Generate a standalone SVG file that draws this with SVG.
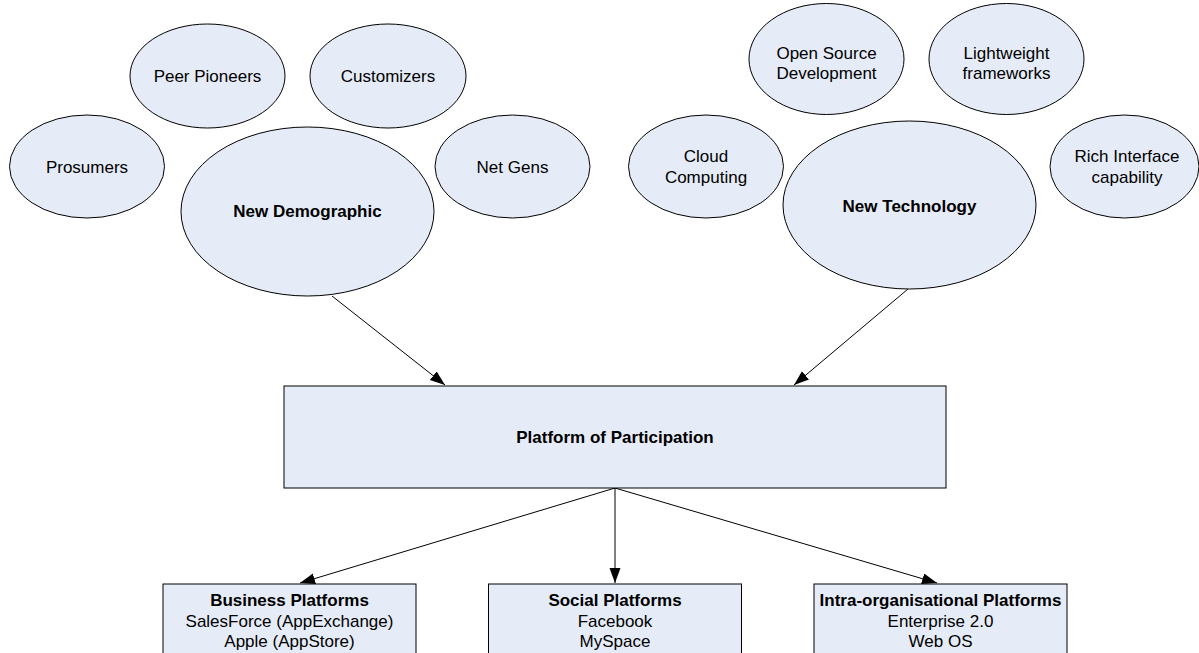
<svg xmlns="http://www.w3.org/2000/svg" width="1199" height="653" viewBox="0 0 1199 653">
<style>
.n{fill:#E6ECF7;stroke:#000;stroke-width:1}
.t{font-family:"Liberation Sans",Arial,sans-serif;font-size:17px;fill:#000;text-anchor:middle}
.b{font-weight:bold}
.c{stroke:#000;stroke-width:1;fill:none;marker-end:url(#ah)}
</style>
<defs>
<marker id="ah" markerUnits="userSpaceOnUse" markerWidth="16" markerHeight="12" refX="15" refY="5.5" orient="auto">
<path d="M0,0 L15,5.5 L0,11 Z" fill="#000"/>
</marker>
</defs>
<rect width="1199" height="653" fill="#fff"/>
<g id="connectors">
<line class="c" x1="332" y1="296" x2="445" y2="385"/>
<line class="c" x1="908" y1="289" x2="794" y2="385"/>
<line class="c" x1="615" y1="488" x2="300" y2="583"/>
<line class="c" x1="615" y1="488" x2="615" y2="583"/>
<line class="c" x1="615" y1="488" x2="937" y2="583"/>
</g>
<g id="prosumers"><ellipse class="n" cx="87" cy="166.5" rx="77.5" ry="51.5"/><text class="t" x="87" y="172.5">Prosumers</text></g>
<g id="peer-pioneers"><ellipse class="n" cx="207.5" cy="76" rx="77.5" ry="52"/><text class="t" x="207.5" y="82">Peer Pioneers</text></g>
<g id="customizers"><ellipse class="n" cx="388" cy="76" rx="78" ry="52"/><text class="t" x="388" y="82">Customizers</text></g>
<g id="net-gens"><ellipse class="n" cx="512.5" cy="166.5" rx="77.5" ry="51.5"/><text class="t" x="512.5" y="172.5">Net Gens</text></g>
<g id="new-demographic"><ellipse class="n" cx="307.5" cy="211.5" rx="126.5" ry="84.5"/><text class="t b" x="307.5" y="217">New Demographic</text></g>
<g id="cloud-computing"><ellipse class="n" cx="706" cy="166.5" rx="77.5" ry="51.5"/><text class="t" x="706" y="162">Cloud</text><text class="t" x="706" y="183">Computing</text></g>
<g id="open-source"><ellipse class="n" cx="826.5" cy="59" rx="77.5" ry="55.5"/><text class="t" x="826.5" y="59">Open Source</text><text class="t" x="826.5" y="79">Development</text></g>
<g id="lightweight"><ellipse class="n" cx="1006.5" cy="59" rx="77.5" ry="55.5"/><text class="t" x="1006.5" y="59">Lightweight</text><text class="t" x="1006.5" y="79">frameworks</text></g>
<g id="rich-interface"><ellipse class="n" cx="1124.5" cy="166.5" rx="74.5" ry="51.5"/><text class="t" x="1127" y="162">Rich Interface</text><text class="t" x="1127" y="183">capability</text></g>
<g id="new-technology"><ellipse class="n" cx="909.5" cy="205" rx="126.5" ry="84"/><text class="t b" x="909.5" y="211.5">New Technology</text></g>
<g id="platform"><rect class="n" x="284" y="386" width="662" height="102"/><text class="t b" x="615" y="443">Platform of Participation</text></g>
<g id="business"><rect class="n" x="163" y="584" width="253" height="80"/><text class="t b" x="289.5" y="606">Business Platforms</text><text class="t" x="289.5" y="627">SalesForce (AppExchange)</text><text class="t" x="289.5" y="647">Apple (AppStore)</text></g>
<g id="social"><rect class="n" x="488.5" y="584" width="253" height="80"/><text class="t b" x="615" y="606">Social Platforms</text><text class="t" x="615" y="627">Facebook</text><text class="t" x="615" y="647">MySpace</text></g>
<g id="intra"><rect class="n" x="814" y="584" width="253" height="80"/><text class="t b" x="940.5" y="606">Intra-organisational Platforms</text><text class="t" x="940.5" y="627">Enterprise 2.0</text><text class="t" x="940.5" y="647">Web OS</text></g>
</svg>
